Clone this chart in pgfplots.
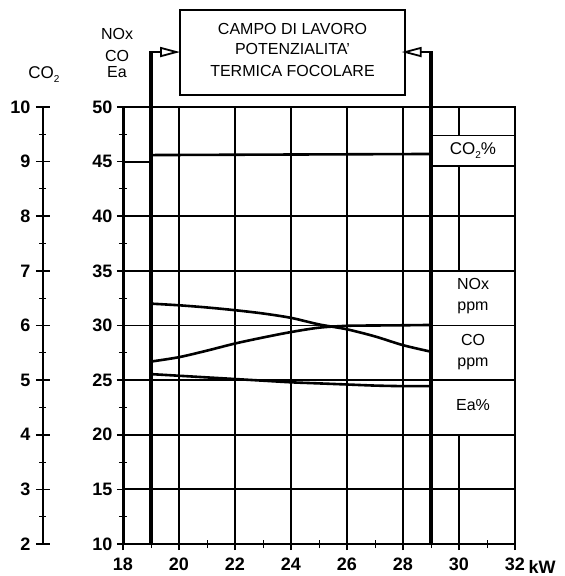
\documentclass[border=0pt]{standalone}
\usepackage{fontspec}
\setmainfont{Liberation Sans}
\usepackage{pgfplots}
\pgfplotsset{compat=1.18}
\usetikzlibrary{arrows.meta}

\begin{document}
\begin{tikzpicture}[x=1pt,y=1pt]
\useasboundingbox (0,0) rectangle (565,576);

% ---- CO2 scale (left) ----
\begin{axis}[
  at={(43pt,32pt)}, anchor=south west, scale only axis,
  width=20pt, height=437pt,
  xmin=0, xmax=1, ymin=2, ymax=10,
  axis y line*=left, axis x line=none,
  xtick=\empty, ytick={2,...,10}, minor y tick num=1,
  tick align=center, major tick length=14pt, minor tick length=7pt,
  every tick/.style={black, line width=1.6pt},
  minor tick style={line width=1pt},
  y axis line style={line width=2.4pt},
  /pgf/number format/assume math mode=true,
  yticklabel style={font=\fontsize{18}{18}\selectfont\bfseries, xshift=-2pt},
]
\end{axis}

% ---- main scale ----
\begin{axis}[
  at={(123pt,32pt)}, anchor=south west, scale only axis,
  width=392pt, height=437pt,
  xmin=18, xmax=32, ymin=10, ymax=50,
  clip=false,
  xtick={18,20,...,32}, ytick={10,15,...,50},
  minor x tick num=1, minor y tick num=1,
  xtick pos=bottom, ytick pos=left,
  tick align=center, major tick length=12pt, minor tick length=8pt,
  every tick/.style={black, line width=1.6pt},
  minor tick style={line width=1pt},
  axis line style={line width=1.6pt},
  /pgf/number format/assume math mode=true,
  ticklabel style={font=\fontsize{18}{18}\selectfont\bfseries},
  xticklabel style={yshift=-4pt},
  yticklabel style={xshift=-1pt},
]
% thicker left and bottom border
\draw[line width=3pt] (axis cs:18,10) -- (axis cs:18,50);
\draw[line width=2.4pt] (axis cs:18,10) -- (axis cs:32,10);
\draw[line width=2pt] (axis cs:18,50) -- (axis cs:32,50);

% horizontal grid
\draw[line width=1.8pt] (axis cs:18,15) -- (axis cs:32,15);
\draw[line width=1.8pt] (axis cs:18,20) -- (axis cs:32,20);
\draw[line width=1.8pt] (axis cs:18,25) -- (axis cs:32,25);
\draw[line width=1.8pt] (axis cs:18,30) -- (axis cs:32,30);
\draw[line width=1.8pt] (axis cs:18,35) -- (axis cs:32,35);
\draw[line width=1.8pt] (axis cs:18,40) -- (axis cs:32,40);
\draw[line width=1.8pt] (axis cs:18,45) -- (axis cs:19,45);
\draw[line width=1.8pt] (axis cs:29,47.4) -- (axis cs:32,47.4);
\draw[line width=1.8pt] (axis cs:29,44.6) -- (axis cs:32,44.6);
% vertical grid
\draw[line width=1.6pt] (axis cs:20,10) -- (axis cs:20,50);
\draw[line width=1.6pt] (axis cs:22,10) -- (axis cs:22,50);
\draw[line width=1.6pt] (axis cs:24,10) -- (axis cs:24,50);
\draw[line width=1.6pt] (axis cs:26,10) -- (axis cs:26,50);
\draw[line width=1.6pt] (axis cs:28,10) -- (axis cs:28,50);
\draw[line width=1.6pt] (axis cs:30,50) -- (axis cs:30,47.4);
\draw[line width=1.6pt] (axis cs:30,44.6) -- (axis cs:30,35);
\draw[line width=1.6pt] (axis cs:30,20) -- (axis cs:30,10);

% working range lines with arrows to the box
\draw[line width=3.2pt] (axis cs:19,10) -- (axis cs:19,55.03);
\draw[line width=3.2pt] (axis cs:29,10) -- (axis cs:29,55.03);
\draw[line width=1.8pt, -{Triangle[open, length=20pt, width=10pt]}]
  (axis cs:18.93,55.03) -- (axis cs:20.04,55.03);
\draw[line width=1.8pt, -{Triangle[open, length=20pt, width=10pt]}]
  (axis cs:29.07,55.03) -- (axis cs:27.95,55.03);

% ---- data ----
% CO2 %  (about 9.13 % on the CO2 scale)
\addplot[black, line width=2.6pt] coordinates {(19,45.6) (24,45.65) (29,45.7)};
% CO ppm
\addplot[black, line width=2.6pt, smooth] coordinates {
  (19,32.0) (20,31.85) (21,31.65) (22,31.4) (23,31.1) (24,30.7)
  (25,30.1) (26,29.65) (27,29.0) (28,28.2) (29,27.6)};
% NOx ppm
\addplot[black, line width=2.6pt, smooth] coordinates {
  (19,26.7) (20,27.1) (21,27.7) (22,28.35) (23,28.9) (24,29.4)
  (25,29.8) (26,29.97) (27,30.0) (28,30.02) (29,30.05)};
% Ea %
\addplot[black, line width=2.6pt, smooth] coordinates {
  (19,25.55) (20,25.4) (21,25.25) (22,25.1) (23,24.95) (24,24.8)
  (25,24.7) (26,24.6) (27,24.5) (28,24.45) (29,24.45)};
\end{axis}

% labels in right column (x = 473, column centre)
\node[font=\fontsize{17}{17}\selectfont] at (473,425.5) {CO\raisebox{-0.45ex}{\fontsize{10}{10}\selectfont 2}\%};
\node[font=\fontsize{16}{16}\selectfont] at (473,292) {NOx};
\node[font=\fontsize{16}{16}\selectfont] at (473,268) {ppm};
\node[font=\fontsize{16}{16}\selectfont] at (473,236) {CO};
\node[font=\fontsize{16}{16}\selectfont] at (473,212) {ppm};
\node[font=\fontsize{16}{16}\selectfont] at (473,171) {Ea\%};

% box
\draw[line width=2pt] (180,566) rectangle (405,481);
\node[font=\fontsize{16}{16}\selectfont] at (292.5,547) {CAMPO DI LAVORO};
\node[font=\fontsize{16}{16}\selectfont] at (292.5,527) {POTENZIALITA'};
\node[font=\fontsize{16}{16}\selectfont] at (292.5,505) {TERMICA FOCOLARE};

% axis titles
\node[font=\fontsize{16}{16}\selectfont] at (117,542) {NOx};
\node[font=\fontsize{16}{16}\selectfont] at (117,520) {CO};
\node[font=\fontsize{16}{16}\selectfont] at (117,503.5) {Ea};
\node[font=\fontsize{17}{17}\selectfont] at (44,501) {CO\raisebox{-0.45ex}{\fontsize{10}{10}\selectfont 2}};
\node[font=\fontsize{18}{18}\selectfont\bfseries, anchor=west] at (525,9.5) {kW};
\end{tikzpicture}
\end{document}
